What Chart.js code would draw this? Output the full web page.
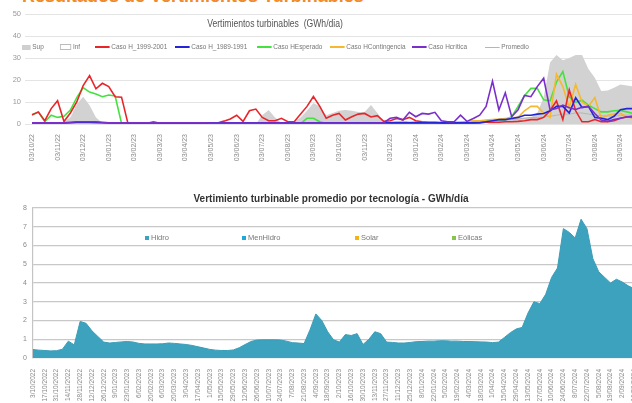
<!DOCTYPE html>
<html>
<head>
<meta charset="utf-8">
<script src="https://cdn.jsdelivr.net/npm/chart.js@4.4.0/dist/chart.umd.min.js"></script>
<style>
    body { margin: 0; width: 632px; height: 403px; overflow: hidden; background: #fff; position: relative;
           font-family: 'Liberation Sans', sans-serif; }
    canvas { position: absolute; left: 0; }
    #hdr { position: absolute; left: 22px; top: -14px; font: bold 18px 'Liberation Sans', sans-serif; color: #f08a2c; white-space: nowrap; }
    #topTitle { position: absolute; left: 175px; width: 200px; top: 18px; text-align: center; font-size: 10px; color: #555;
                transform: scaleX(0.86); white-space: nowrap; }
    #botTitle { position: absolute; left: 0; width: 662px; top: 193px; text-align: center; font: bold 10px 'Liberation Sans', sans-serif; color: #333; }
    .lg { position: absolute; font-size: 7.5px; color: #777; white-space: nowrap; line-height: 10px; transform-origin: left center; }
    .lg i { display: inline-block; vertical-align: middle; margin-right: 2px; }
    .sw { width: 17px; height: 2px; }
    .sq { width: 4px; height: 4px; }
</style>
</head>
<body>
<div id="hdr">Resultados de Vertimientos Turbinables</div>
<canvas id="topChart" width="660" height="170" style="top:0"></canvas>
<div id="topTitle">Vertimientos turbinables&nbsp; (GWh/dia)</div>
<div id="topLegend"></div>
<canvas id="botChart" width="660" height="218" style="top:185px"></canvas>
<div id="botTitle">Vertimiento turbinable promedio por tecnología - GWh/día</div>
<div id="botLegend"></div>
<script>
// ---- top chart: weekly points, month labels every 4th point ----
const topMonths = ['03/10/22','03/11/22','03/12/22','03/01/23','03/02/23','03/03/23','03/04/23','03/05/23',
    '03/06/23','03/07/23','03/08/23','03/09/23','03/10/23','03/11/23','03/12/23','03/01/24','03/02/24',
    '03/03/24','03/04/24','03/05/24','03/06/24','03/07/24','03/08/24','03/09/24','03/10/24'];

const supValues = [0, 0, 0, 0, 0, 1, 3, 9, 12.4, 8.5, 3, 0.5,
    0, 0, 0, 0, 0, 0, 0, 0, 0, 0, 0, 0, 0, 0, 0, 0, 0, 0, 0, 0, 0, 0, 0, 0,
    4, 6.4, 3, 0.5, 0.5, 1, 3, 6, 9.5, 8, 4, 5, 6, 6.4, 6, 5.5, 5.5, 8.6, 5, 1,
    0, 0, 0, 0, 0, 0, 0, 0, 0, 0, 0, 0, 0, 0, 0, 0,
    1, 1.5, 2, 2, 2.5, 3, 3, 5, 12, 28, 31.4, 29, 30, 31.4, 31.4, 25, 21, 15, 15.2, 16.5, 17.9, 17.5, 17, 16.5, 16];

const caso1999 = [4.2, 5.4, 1.5, 7, 10.6, 1.1, 5, 10, 17.5, 22, 16, 18.5, 17, 12.4, 12.2,
    0.3, 0.3, 0.3, 0.3, 1, 0.3, 0.2, 0.2, 0.2, 0.2, 0.2, 0.2, 0.2, 0.2, 0.5,
    1.3, 2.3, 4, 1.2, 6, 6.8, 3, 1.5, 1.5, 2.6, 1, 1, 4.5, 8, 12.5, 8, 2.6, 4, 4.8, 1.8, 3.3, 4.5, 4.8, 3.2, 3.8, 1.2,
    1.5, 2.5, 2, 3, 1.5, 1, 0.8, 0.8, 0.5, 0.5, 0.5, 0.5, 0.5, 0.5, 0.5, 0.8, 0.8, 0.8, 1, 1, 1.2, 1.5, 2, 2, 3,
    6, 10.5, 2, 15.5, 6, 1, 1, 2, 1, 1, 1.5, 2.6, 3.3, 3, 3, 3];

const caso1989 = [0.5, 0.5, 0.5, 0.5, 0.5, 0.5, 0.6, 0.8, 0.8, 0.8, 0.7, 0.6, 0.5, 0.5, 0.5, 0.5, 0.5, 0.5, 0.5, 0.5,
    0.5, 0.5, 0.5, 0.5, 0.5, 0.5, 0.5, 0.5, 0.5, 0.5, 0.5, 0.5, 0.5, 0.5, 0.5, 0.5, 0.5, 0.5, 0.5, 0.5,
    0.5, 0.5, 0.5, 0.5, 0.5, 0.5, 0.5, 0.5, 0.5, 0.5, 0.5, 0.5, 0.5, 0.5, 0.5, 0.5, 0.5, 0.5, 0.5, 0.5,
    0.5, 0.5, 0.5, 0.5, 0.5, 0.5, 0.5, 0.5, 0.5, 0.5, 0.6,
    1, 1.5, 2, 2, 2.5, 3, 4, 4, 4.5, 4.8, 6, 8, 8, 5, 12, 7.5, 8, 3, 2.6, 2, 3.5, 6.5, 7, 7, 7, 7];

const casoEsperado = [4.1, 5.5, 1, 4, 3, 3.5, 6.3, 12, 16.5, 14.5, 13.6, 12.4, 13.2, 12.7, 0.3,
    0.2, 0.2, 0.2, 0.2, 0.2, 0.2, 0.2, 0.2, 0.2, 0.2, 0.2, 0.2, 0.2, 0.2,
    0.2, 0.2, 0.2, 0.2, 0.2, 0.2, 0.2, 0.2, 0.2, 0.2, 0.2, 0.2, 0.2, 0.2,
    2.6, 2.6, 1,
    0.2, 0.2, 0.2, 0.2, 0.2, 0.2, 0.2, 0.2, 0.2, 0.2, 0.2, 0.2, 0.2, 0.2, 0.2, 0.2, 0.3, 0.3, 0.4, 0.5, 0.6, 0.8, 1,
    1.2, 1.3, 1.5, 1.8, 1.8, 2, 3.3, 8, 12.8, 16.2, 16.2, 11, 10.5, 19, 23.8, 12.4, 9.8, 10.8, 8.6, 7, 5.5, 5.5, 6, 6.2, 5.5, 4.8, 4.8, 4.8];

const casoContingencia = [0.2, 0.2, 0.2, 0.2, 0.2, 0.2, 0.2, 0.2, 0.2, 0.2, 0.2, 0.2, 0.2, 0.2,
    0.2, 0.2, 0.2, 0.2, 0.2, 0.2, 0.2, 0.2, 0.2, 0.2, 0.2, 0.2, 0.2, 0.2,
    0.2, 0.2, 0.2, 0.2, 0.2, 0.2, 0.2, 0.2, 0.2, 0.2, 0.2, 0.2, 0.2, 0.2,
    0.2, 0.2, 0.2, 0.2, 0.2, 0.2, 0.2, 0.2, 0.2, 0.2, 0.2, 0.2, 0.2, 0.2,
    0.8, 1, 1.2, 0.8, 1, 0.8, 0.8, 0.8, 0.8, 0.8, 0.8, 0.8, 1,
    1.5, 1.5, 1.8, 2, 2.2, 2.5, 2.8, 3, 6, 8, 8, 5, 3, 22.7, 17, 7.5, 18, 10, 8, 12, 2.6, 4, 4.5, 4.8, 3.3, 2.6, 2.6, 2.6];

const casoCritica = [0.5, 0.5, 0.5, 0.5, 0.5, 0.5, 0.8, 1, 1, 1, 1, 0.8, 0.6, 0.5,
    0.5, 0.5, 0.5, 0.5, 0.5, 0.5, 0.5, 0.5, 0.5, 0.5, 0.5, 0.5, 0.5, 0.5,
    0.4, 0.4, 0.4, 0.4, 0.4, 0.4, 0.4, 0.4, 0.4, 0.4, 0.4, 0.4, 0.4, 0.4,
    0.4, 0.4, 0.4, 0.4, 0.4, 0.4, 0.4, 0.4, 0.4, 0.4, 0.4, 0.4, 0.4, 0.6,
    2.6, 3, 1.8, 5.3, 3.3, 4.8, 4.5, 5.3, 1.5, 1, 1, 4, 1.2, 2.5, 4, 8, 19.5, 6.4, 14.2, 3.3,
    6.5, 13, 12.4, 17, 20.8, 6.4, 7, 8.6, 7.4, 6.6, 7.6, 8, 4.8, 1.8, 1.2, 2, 2.6, 3.2, 3.6, 3.6, 3.6];

const promedio = [0.4, 0.4, 0.4, 0.4, 0.4, 0.4, 0.5, 0.6, 0.6, 0.6, 0.5, 0.4, 0.4, 0.4, 0.4, 0.4, 0.4, 0.4, 0.4, 0.4,
    0.4, 0.4, 0.4, 0.4, 0.4, 0.4, 0.4, 0.4, 0.4, 0.4, 0.4, 0.4, 0.4, 0.4, 0.4, 0.4, 0.4, 0.4, 0.4, 0.4,
    0.4, 0.4, 0.4, 0.4, 0.4, 0.4, 0.4, 0.4, 0.4, 0.4, 0.4, 0.4, 0.4, 0.4, 0.4, 0.4, 0.5, 0.5, 0.5, 0.5,
    0.5, 0.5, 0.5, 0.5, 0.5, 0.5, 0.5, 0.6, 0.6, 0.7, 0.8,
    1, 1.2, 1.5, 1.8, 2, 2.3, 2.6, 3, 3, 3.2, 3.5, 4, 4.5, 4.5, 5, 5, 4.5, 4, 3.8, 3.6, 3.6, 3.8, 4, 4, 4, 4];

// ---- bottom chart: weekly points, date label every 2nd point ----
const botDates = ['3/10/2022','17/10/2022','31/10/2022','14/11/2022','28/11/2022','12/12/2022','26/12/2022',
    '9/01/2023','23/01/2023','6/02/2023','20/02/2023','6/03/2023','20/03/2023','3/04/2023','17/04/2023',
    '1/05/2023','15/05/2023','29/05/2023','12/06/2023','26/06/2023','10/07/2023','24/07/2023','7/08/2023',
    '21/08/2023','4/09/2023','18/09/2023','2/10/2023','16/10/2023','30/10/2023','13/11/2023','27/11/2023',
    '11/12/2023','25/12/2023','8/01/2024','22/01/2024','5/02/2024','19/02/2024','4/03/2024','18/03/2024',
    '1/04/2024','15/04/2024','29/04/2024','13/05/2024','27/05/2024','10/06/2024','24/06/2024','8/07/2024',
    '22/07/2024','5/08/2024','19/08/2024','2/09/2024','16/09/2024'];

const hidroValues = [0.45, 0.42, 0.4, 0.38, 0.39, 0.47, 0.9, 0.7, 1.95, 1.85, 1.45, 1.15, 0.85,
    0.8, 0.83, 0.86, 0.88, 0.85, 0.78, 0.75, 0.75, 0.75, 0.76, 0.8, 0.78, 0.75, 0.72, 0.67, 0.6,
    0.53, 0.46, 0.42, 0.4, 0.4, 0.43, 0.55, 0.72, 0.88, 0.96, 0.97, 0.97, 0.97, 0.96, 0.9, 0.82,
    0.8, 0.77, 1.5, 2.35, 2.0, 1.4, 0.97, 0.85, 1.25, 1.2, 1.3, 0.72, 1.0, 1.4, 1.3, 0.85,
    0.83, 0.8, 0.8, 0.83, 0.87, 0.88, 0.9, 0.9, 0.92, 0.92, 0.9, 0.9, 0.88, 0.88, 0.87, 0.86,
    0.85, 0.82, 0.85, 1.1, 1.35, 1.55, 1.63, 2.4, 3.0, 2.9, 3.4, 4.3, 4.8, 6.9, 6.7, 6.4, 7.4,
    6.9, 5.3, 4.6, 4.3, 4.0, 4.2, 4.05, 3.85, 3.7, 3.6];

const topLegendItems = [
    { label: 'Sup', x: 22, box: 'background:#cfcfcf;width:10px;height:5px' },
    { label: 'Inf', x: 60, box: 'background:#fff;border:1px solid #bbb;width:11px;height:4px' },
    { label: 'Caso H_1999-2001', x: 95, color: '#e8262a' },
    { label: 'Caso H_1989-1991', x: 175, color: '#2424d8' },
    { label: 'Caso HEsperado', x: 257, color: '#45e23f' },
    { label: 'Caso HContingencia', x: 330, color: '#f6b82e' },
    { label: 'Caso Hcrítica', x: 412, color: '#7b2fca' },
    { label: 'Promedio', x: 485, color: '#b5b5b5', thin: true }
];

const botLegendItems = [
    { label: 'Hidro', x: 145, color: '#3da2bd' },
    { label: 'MenHidro', x: 242, color: '#22a8d8' },
    { label: 'Solar', x: 355, color: '#f3b414' },
    { label: 'Eólicas', x: 452, color: '#86c44a' }
];

document.addEventListener('DOMContentLoaded', function() {
    initTopChart();
    initBottomChart();
    buildLegends();
});

function lineSet(label, data, color, order, width) {
    return {
        label: label,
        data: data,
        borderColor: color,
        borderWidth: width || 1.6,
        pointRadius: 0,
        tension: 0,
        fill: false,
        order: order
    };
}

function initTopChart() {
    const labels = topMonths.flatMap(m => [m, '', '', '']).slice(0, 97);
    new Chart(document.getElementById('topChart'), {
        type: 'line',
        data: {
            labels: labels,
            datasets: [
                {
                    label: 'Sup',
                    data: supValues,
                    borderWidth: 0,
                    borderColor: 'rgba(0,0,0,0)',
                    backgroundColor: '#d2d2d2',
                    pointRadius: 0,
                    fill: 'origin',
                    order: 10
                },
                lineSet('Promedio', promedio, '#b5b5b5', 6, 1),
                lineSet('Caso HEsperado', casoEsperado, '#45e23f', 5),
                lineSet('Caso HContingencia', casoContingencia, '#f6b82e', 4),
                lineSet('Caso H_1999-2001', caso1999, '#e8262a', 3),
                lineSet('Caso H_1989-1991', caso1989, '#2424d8', 2),
                lineSet('Caso Hcrítica', casoCritica, '#7b2fca', 1)
            ]
        },
        options: {
            responsive: false,
            animation: false,
            layout: { padding: { top: 14, right: 14, left: 0, bottom: 0 } },
            plugins: { legend: { display: false }, tooltip: { enabled: false } },
            scales: {
                y: {
                    min: 0,
                    max: 50,
                    afterFit: s => { s.width = 32; },
                    border: { display: false },
                    grid: { color: '#e4e4e4', tickLength: 7 },
                    ticks: { stepSize: 10, padding: 4, color: '#9a9a9a', font: { size: 7.5 } }
                },
                x: {
                    afterFit: s => { s.height = 46; },
                    border: { display: false },
                    grid: { display: false },
                    ticks: {
                        autoSkip: false,
                        minRotation: 90,
                        maxRotation: 90,
                        padding: 2,
                        color: '#8a8a8a',
                        font: { size: 7 }
                    }
                }
            }
        }
    });
}

function initBottomChart() {
    const labels = botDates.flatMap(d => [d, '']);
    new Chart(document.getElementById('botChart'), {
        type: 'line',
        data: {
            labels: labels,
            datasets: [{
                label: 'Hidro',
                data: hidroValues,
                borderColor: '#3a9db7',
                borderWidth: 1,
                backgroundColor: '#3da2bd',
                pointRadius: 0,
                tension: 0,
                fill: 'origin'
            }]
        },
        options: {
            responsive: false,
            animation: false,
            layout: { padding: { top: 23, right: 20, left: 0, bottom: 0 } },
            plugins: { legend: { display: false }, tooltip: { enabled: false } },
            scales: {
                y: {
                    min: 0,
                    max: 8,
                    afterFit: s => { s.width = 33; },
                    border: { display: true, color: '#c4c4c4', width: 1.2 },
                    grid: { color: '#c8c8c8', lineWidth: 1.3, drawTicks: false },
                    ticks: { stepSize: 1, padding: 6, color: '#8a8a8a', font: { size: 7 } }
                },
                x: {
                    afterFit: s => { s.height = 45; },
                    border: { display: false },
                    grid: { display: false },
                    ticks: {
                        autoSkip: false,
                        minRotation: 90,
                        maxRotation: 90,
                        padding: 3,
                        color: '#8a8a8a',
                        font: { size: 6.5 }
                    }
                }
            }
        }
    });
}

function buildLegends() {
    const top = document.getElementById('topLegend');
    topLegendItems.forEach(it => {
        const el = document.createElement('div');
        el.className = 'lg';
        el.style.left = it.x + 'px';
        el.style.top = '42px';
        el.style.transform = 'scaleX(0.86)';
        const sw = it.box
            ? `<i style="${it.box}"></i>`
            : `<i class="sw" style="background:${it.color};height:${it.thin ? 1 : 2}px"></i>`;
        el.innerHTML = sw + it.label;
        top.appendChild(el);
    });

    const bot = document.getElementById('botLegend');
    botLegendItems.forEach(it => {
        const el = document.createElement('div');
        el.className = 'lg';
        el.style.left = it.x + 'px';
        el.style.top = '233px';
        el.innerHTML = `<i class="sq" style="background:${it.color}"></i>${it.label}`;
        bot.appendChild(el);
    });
}
</script>
</body>
</html>
